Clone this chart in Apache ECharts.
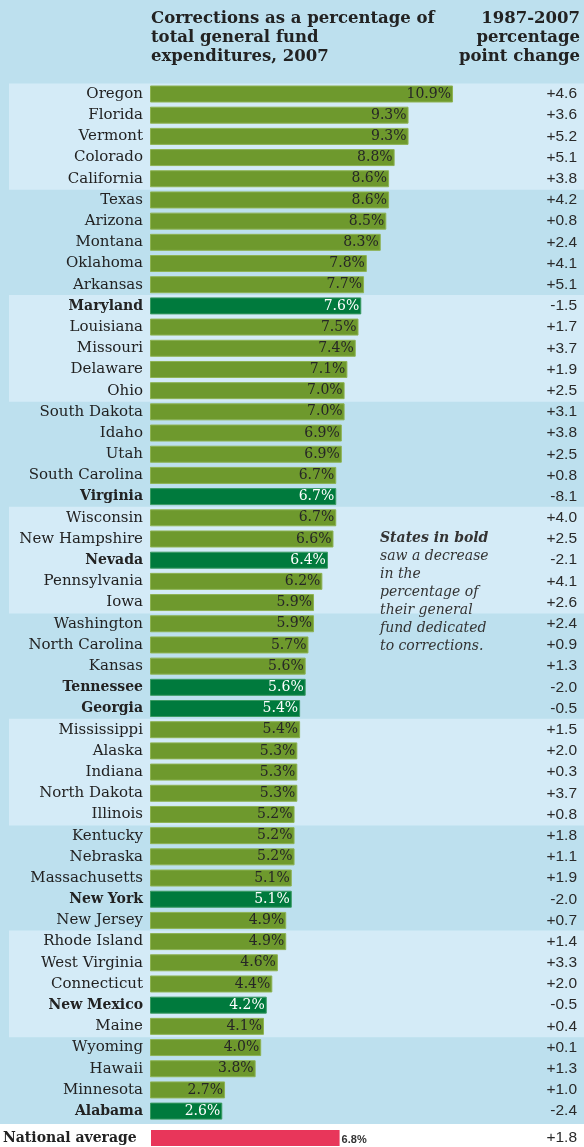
<!DOCTYPE html>
<html>
<head>
<meta charset="utf-8">
<script src="https://cdn.jsdelivr.net/npm/echarts@6/dist/echarts.min.js"></script>
<style>
html,body{margin:0;padding:0;}
#c{width:584px;height:1147px;background:linear-gradient(to bottom,#bde0ee 0px,#bde0ee 1124px,#ffffff 1124px,#ffffff 1147px);}
</style>
</head>
<body>
<div id="c"></div>
<script>
// ---- data ----
var states = ['Oregon','Florida','Vermont','Colorado','California','Texas','Arizona','Montana','Oklahoma','Arkansas',
  'Maryland','Louisiana','Missouri','Delaware','Ohio','South Dakota','Idaho','Utah','South Carolina','Virginia',
  'Wisconsin','New Hampshire','Nevada','Pennsylvania','Iowa','Washington','North Carolina','Kansas','Tennessee','Georgia',
  'Mississippi','Alaska','Indiana','North Dakota','Illinois','Kentucky','Nebraska','Massachusetts','New York','New Jersey',
  'Rhode Island','West Virginia','Connecticut','New Mexico','Maine','Wyoming','Hawaii','Minnesota','Alabama'];
var pct2007 = [10.9,9.3,9.3,8.8,8.6,8.6,8.5,8.3,7.8,7.7,
  7.6,7.5,7.4,7.1,7.0,7.0,6.9,6.9,6.7,6.7,
  6.7,6.6,6.4,6.2,5.9,5.9,5.7,5.6,5.6,5.4,
  5.4,5.3,5.3,5.3,5.2,5.2,5.2,5.1,5.1,4.9,
  4.9,4.6,4.4,4.2,4.1,4.0,3.8,2.7,2.6];
var change = [4.6,3.6,5.2,5.1,3.8,4.2,0.8,2.4,4.1,5.1,
  -1.5,1.7,3.7,1.9,2.5,3.1,3.8,2.5,0.8,-8.1,
  4.0,2.5,-2.1,4.1,2.6,2.4,0.9,1.3,-2.0,-0.5,
  1.5,2.0,0.3,3.7,0.8,1.8,1.1,1.9,-2.0,0.7,
  1.4,3.3,2.0,-0.5,0.4,0.1,1.3,1.0,-2.4];
var nationalName = ['National average'];
var nationalPct = [6.8];
var nationalChange = [1.8];
var titleLeft = ['Corrections as a percentage of','total general fund','expenditures, 2007'];
var titleRight = ['1987-2007','percentage','point change'];
var note = ['States in bold','saw a decrease','in the','percentage of','their general','fund dedicated','to corrections.'];

// ---- styles ----
var OLIVE = '#6e992d', DARK = '#007a3d', RED = '#e8365a';
var LIGHT = '#d4ebf7';
var SERIF = '"DejaVu Serif", serif';
var SANS = '"Liberation Sans", Arial, sans-serif';
function fmt(v){ return (v > 0 ? '+' : '') + v.toFixed(1); }

var rowH = 21.19;
var top0 = 94 - rowH/2;
var hgt = rowH * states.length;
var scalePx = 27.8, xMax = 15;

var chart = echarts.init(document.getElementById('c'), null, {renderer:'canvas'});
var option = {
  backgroundColor: 'transparent',
  animation: false,
  grid: [
    {left: 9, right: 0, top: top0, height: hgt},
    {left: 150, width: scalePx * xMax, top: top0, height: hgt},
    {left: 150, width: scalePx * xMax, top: 1129, height: 20}
  ],
  xAxis: [
    {gridIndex: 0, type: 'value', min: 0, max: 1, show: false},
    {gridIndex: 1, type: 'value', min: 0, max: xMax, show: false},
    {gridIndex: 2, type: 'value', min: 0, max: xMax, show: false}
  ],
  yAxis: [
    {gridIndex: 0, type: 'category', data: states, inverse: true, show: false},
    {gridIndex: 1, type: 'category', data: states, inverse: true, z: 10,
      axisLine: {show: false}, axisTick: {show: false},
      axisLabel: {margin: 7, fontFamily: SERIF, fontSize: 15, color: '#222',
        formatter: function(v, i){ return change[i] < 0 ? '{b|' + v + '}' : '{r|' + v + '}'; },
        rich: {r: {fontFamily: SERIF, fontSize: 15, color: '#222'},
               b: {fontFamily: SERIF, fontSize: 14, fontWeight: 'bold', color: '#222'}}}},
    {gridIndex: 1, type: 'category', data: change.map(fmt), inverse: true, position: 'right', z: 10,
      axisLine: {show: false}, axisTick: {show: false},
      axisLabel: {margin: 10, align: 'right', fontFamily: SANS, fontSize: 15.5, color: '#2a2a2a'}},
    {gridIndex: 2, type: 'category', data: nationalName, z: 10,
      axisLine: {show: false}, axisTick: {show: false},
      axisLabel: {margin: 148, align: 'left', fontFamily: SERIF, fontSize: 14, fontWeight: 'bold', color: '#222'}},
    {gridIndex: 2, type: 'category', data: nationalChange.map(fmt), position: 'right', z: 10,
      axisLine: {show: false}, axisTick: {show: false},
      axisLabel: {margin: 10, align: 'right', fontFamily: SANS, fontSize: 15.5, color: '#2a2a2a'}}
  ],
  series: [
    {type: 'bar', xAxisIndex: 0, yAxisIndex: 0, barWidth: rowH + 0.8, z: -1, silent: true,
      data: states.map(function(s, i){
        return {value: 1, itemStyle: {color: Math.floor(i/5) % 2 === 0 ? LIGHT : 'rgba(0,0,0,0)'}};
      })},
    {type: 'bar', xAxisIndex: 1, yAxisIndex: 1, barWidth: 17, z: 3,
      data: pct2007.map(function(v, i){
        var neg = change[i] < 0;
        return {value: v,
          itemStyle: {color: neg ? DARK : OLIVE, borderColor: neg ? '#3a9a62' : '#8db253', borderWidth: 1},
          label: {color: neg ? '#ffffff' : '#262626'}};
      }),
      label: {show: true, position: 'insideRight', distance: 2, fontFamily: SERIF, fontSize: 14,
        formatter: function(p){ return p.value.toFixed(1) + '%'; }}},
    {type: 'bar', xAxisIndex: 2, yAxisIndex: 3, barWidth: 16, z: 3,
      data: nationalPct,
      itemStyle: {color: RED},
      label: {show: true, position: 'right', distance: 2, offset: [0, 2], fontFamily: SANS, fontSize: 11,
        fontWeight: 'bold', color: '#333', formatter: function(p){ return p.value.toFixed(1) + '%'; }}}
  ],
  graphic: [
    {type: 'text', x: 151, y: 9, z: 10,
      style: {text: titleLeft.join('\n'), fontFamily: SERIF, fontSize: 16.5, fontWeight: 'bold', lineHeight: 19, fill: '#222'}},
    {type: 'text', x: 580, y: 9, z: 10,
      style: {text: titleRight.join('\n'), align: 'right', fontFamily: SERIF, fontSize: 16.5, fontWeight: 'bold', lineHeight: 19, fill: '#222'}},
    {type: 'text', x: 380, y: 529, z: 10,
      style: {text: '{h|' + note[0] + '}\n' + note.slice(1).map(function(t){ return '{n|' + t + '}'; }).join('\n'),
        rich: {h: {fontFamily: SERIF, fontStyle: 'italic', fontWeight: 'bold', fontSize: 14, lineHeight: 18, fill: '#333'},
               n: {fontFamily: SERIF, fontStyle: 'italic', fontSize: 14, lineHeight: 18, fill: '#333'}}}}
  ]
};
chart.setOption(option);
</script>
</body>
</html>
